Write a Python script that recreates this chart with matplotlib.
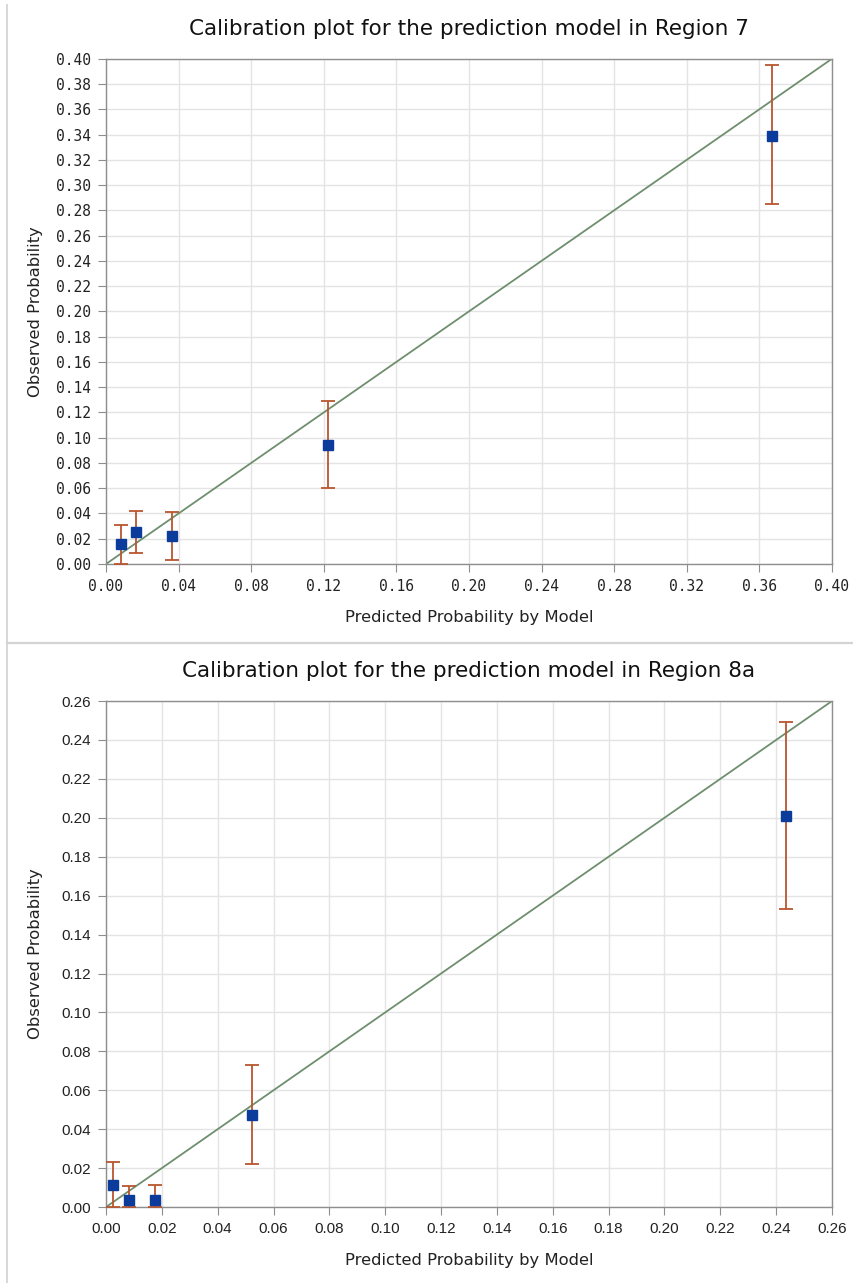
import matplotlib.pyplot as plt
import numpy as np
from matplotlib.lines import Line2D

# Region 7 calibration groups
r7_pred = [0.008, 0.0165, 0.0365, 0.1225, 0.3667]
r7_obs = [0.0158, 0.025, 0.0218, 0.094, 0.3392]
r7_lo = [0.0, 0.0084, 0.0032, 0.060, 0.2847]
r7_hi = [0.0305, 0.0418, 0.0408, 0.129, 0.395]

# Region 8a calibration groups
r8_pred = [0.0026, 0.0081, 0.0176, 0.0524, 0.2434]
r8_obs = [0.0111, 0.0034, 0.0034, 0.0475, 0.2009]
r8_lo = [0.0, 0.0, 0.0, 0.0219, 0.1533]
r8_hi = [0.0234, 0.0106, 0.0111, 0.073, 0.249]

MARK = '#0B3C9C'
ERR = '#B8562F'
DIAG = '#6E8F6E'
GRID = '#E4E4E4'
FRAME = '#8E8E8E'

fig = plt.figure(figsize=(8.54, 12.83), dpi=100)


def calib(ax, pred, obs, lo, hi, lim, xstep, ystep, title, tickfont, tsize):
    ax.plot([0, lim], [0, lim], color=DIAG, lw=1.3, zorder=2)
    obs = np.array(obs)
    yerr = [obs - np.array(lo), np.array(hi) - obs]
    ax.errorbar(pred, obs, yerr=yerr, fmt='none', ecolor=ERR, elinewidth=1.3,
                capsize=5, capthick=1.3, zorder=3, clip_on=False)
    ax.plot(pred, obs, 's', color=MARK, ms=6.5, zorder=4, clip_on=False)
    xt = np.round(np.arange(0, lim + xstep / 2, xstep), 2)
    yt = np.round(np.arange(0, lim + ystep / 2, ystep), 2)
    ax.set_xlim(0, lim)
    ax.set_ylim(0, lim)
    ax.set_xticks(xt)
    ax.set_yticks(yt)
    ax.set_xticklabels(['%.2f' % t for t in xt], family=tickfont, fontsize=tsize)
    ax.set_yticklabels(['%.2f' % t for t in yt], family=tickfont, fontsize=tsize)
    ax.grid(True, color=GRID, lw=1.0, zorder=0)
    ax.set_axisbelow(True)
    for s in ax.spines.values():
        s.set_color(FRAME)
        s.set_linewidth(1.0)
    ax.tick_params(direction='out', length=6, color=FRAME, pad=5, labelcolor='#222222')
    ax.set_title(title, fontsize=15.5, family='DejaVu Sans', pad=17, color='#111111')
    ax.set_xlabel('Predicted Probability by Model', fontsize=11.8, family='DejaVu Sans',
                  color='#222222')
    ax.set_ylabel('Observed Probability', fontsize=11.8, family='DejaVu Sans',
                  color='#222222')
    ax.xaxis.set_label_coords(0.5, -0.091)
    ax.yaxis.set_label_coords(-0.087, 0.5)


ax1 = fig.add_axes([0.1241, 0.5604, 0.8501, 0.3938])
calib(ax1, r7_pred, r7_obs, r7_lo, r7_hi, 0.40, 0.04, 0.02,
      'Calibration plot for the prediction model in Region 7', 'DejaVu Sans Mono', 10.5)

ax2 = fig.add_axes([0.1241, 0.0592, 0.8501, 0.3944])
calib(ax2, r8_pred, r8_obs, r8_lo, r8_hi, 0.26, 0.02, 0.02,
      'Calibration plot for the prediction model in Region 8a', 'Liberation Sans', 11)

# panel borders
fig.add_artist(Line2D([7 / 854, 7 / 854], [1 - 5 / 1283, 0.0],
                      transform=fig.transFigure, color='#D4D4D4', lw=1.3))
fig.add_artist(Line2D([7 / 854, 1.0], [1 - 643 / 1283, 1 - 643 / 1283],
                      transform=fig.transFigure, color='#D4D4D4', lw=1.6))

fig.savefig('out.png', dpi=100)
